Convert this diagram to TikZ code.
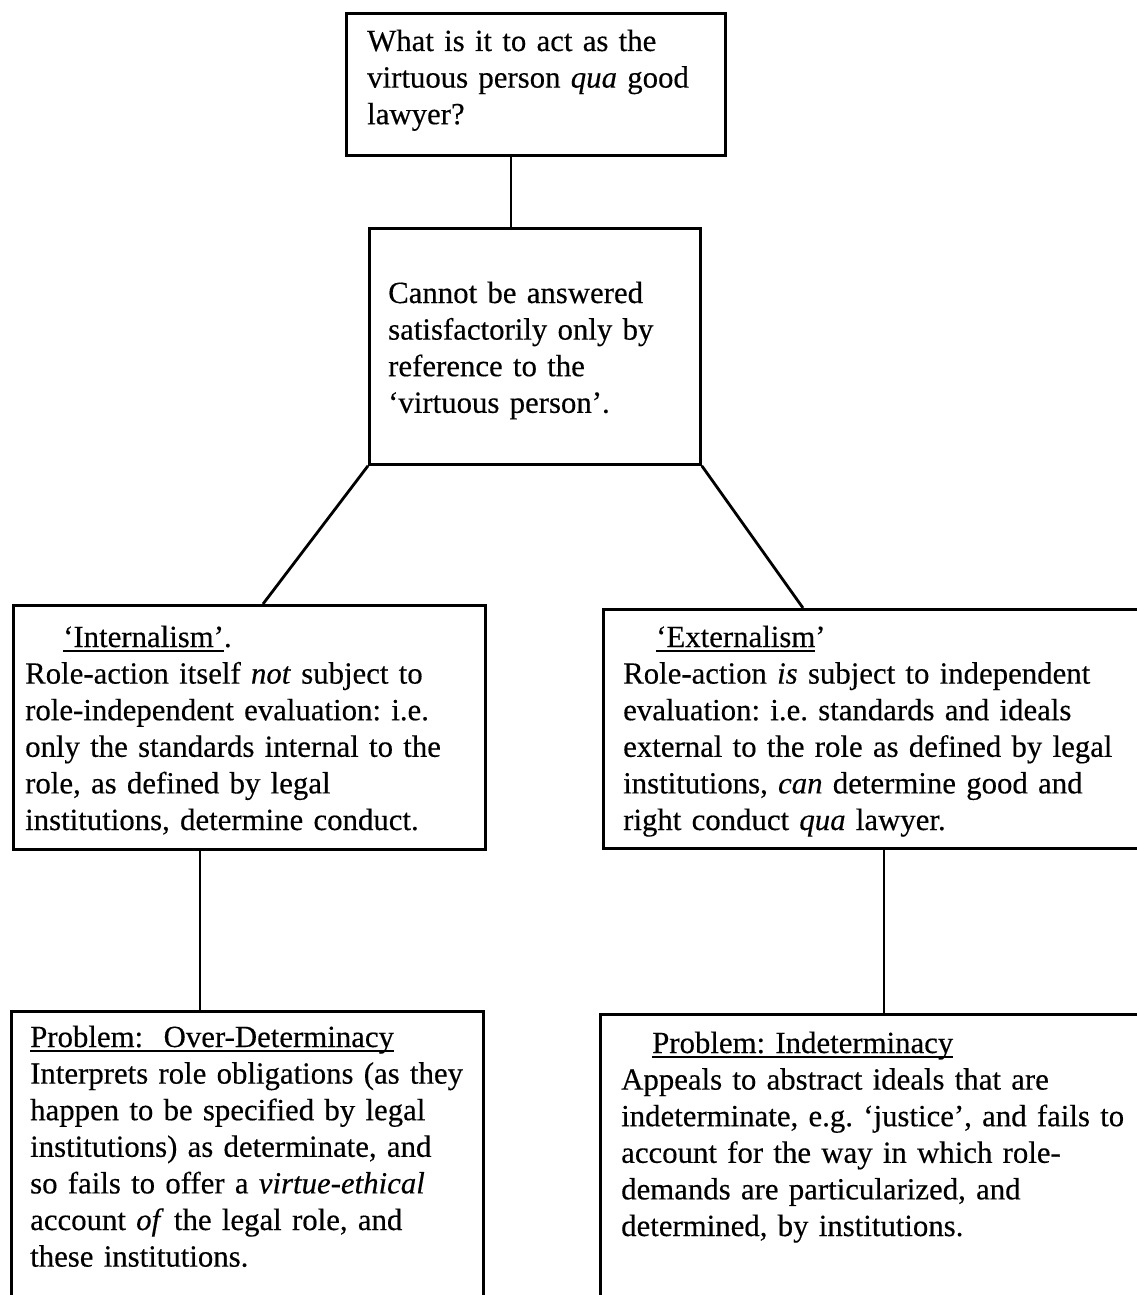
\documentclass[tikz,border=0pt]{standalone}
\usepackage{fontspec}
\setmainfont{Liberation Serif}[UprightFeatures={FakeBold=0.35},ItalicFeatures={FakeBold=0.35}]
\usetikzlibrary{calc}
\newcommand\myuline[1]{\setbox0\hbox{#1}\rlap{\rule[-5pt]{\wd0}{1.8pt}}\box0}
\begin{document}
\begin{tikzpicture}[x=1pt,y=-1pt,
  box/.style={draw=black,line width=2.8pt,rectangle,inner sep=0pt,anchor=north west},
  txt/.style={anchor=base west,inner sep=0pt,text width=560pt,align=left,
    font=\fontsize{30.8}{36.6}\selectfont\frenchspacing},
  conn/.style={draw=black,line width=2.8pt}]
\useasboundingbox (0,0) rectangle (1137,1295);
\clip (0,0) rectangle (1137,1295);
\fill[white] (0,0) rectangle (1137,1295);
% boxes
\node[box,minimum width=379pt,minimum height=142pt] (b1) at (345,12) {};
\node[box,minimum width=331pt,minimum height=236pt] (b2) at (368,227) {};
\node[box,minimum width=472pt,minimum height=244pt] (b3) at (12,604) {};
\node[box,minimum width=548pt,minimum height=239pt] (b4) at (602,608) {};
\node[box,minimum width=472pt,minimum height=285pt] (b5) at (10,1010) {};
\node[box,minimum width=552pt,minimum height=290pt] (b6) at (599,1013) {};
% texts
\node[txt] (t1) at (367,51) {What is it to act as the\\virtuous person \textit{qua} good\\lawyer?};
\node[txt] (t2) at (388,303) {Cannot be answered\\satisfactorily only by\\reference to the\\‘virtuous person’.};
\node[txt] (t3) at (25,647) {\hspace*{38pt}\myuline{‘Internalism’}.\\Role-action itself \textit{not} subject to\\role-independent evaluation: i.e.\\only the standards internal to the\\role, as defined by legal\\institutions, determine conduct.};
\node[txt] (t4) at (623,647) {\hspace*{33pt}\myuline{‘Externalism}’\\Role-action \textit{is} subject to independent\\evaluation: i.e. standards and ideals\\external to the role as defined by legal\\institutions, \textit{can} determine good and\\right conduct \textit{qua} lawyer.};
\node[txt] (t5) at (30,1047) {\myuline{Problem:\ \ Over-Determinacy}\\Interprets role obligations (as they\\happen to be specified by legal\\institutions) as determinate, and\\so fails to offer a \textit{virtue-ethical}\\account \textit{of} the legal role, and\\these institutions.};
\node[txt] (t6) at (621,1053) {\hspace*{31pt}\myuline{Problem: Indeterminacy}\\Appeals to abstract ideals that are\\indeterminate, e.g. ‘justice’, and fails to\\account for the way in which role-\\demands are particularized, and\\determined, by institutions.};
% connector x positions
\coordinate (x12) at (511,0);
\coordinate (x23) at (263,0);
\coordinate (x24) at (803,0);
\coordinate (x35) at (200,0);
\coordinate (x46) at (884,0);
% connectors
\draw[conn] (b1.south -| x12) -- (b2.north -| x12);
\draw[conn] (b2.south west) -- (b3.north -| x23);
\draw[conn] (b2.south east) -- (b4.north -| x24);
\draw[conn] (b3.south -| x35) -- (b5.north -| x35);
\draw[conn] (b4.south -| x46) -- (b6.north -| x46);
\end{tikzpicture}
\end{document}
